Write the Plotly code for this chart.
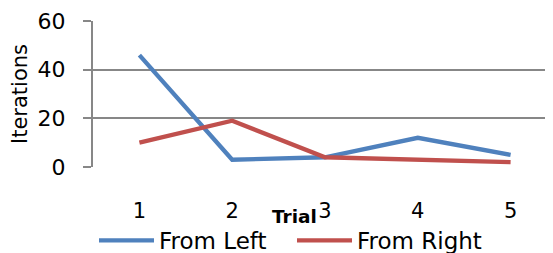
import plotly.graph_objects as go

trials = [1, 2, 3, 4, 5]
from_left = [46, 3, 4, 12, 5]
from_right = [10, 19, 4, 3, 2]
y_ticks = [0, 20, 40, 60]

BLUE = "#4F81BD"
RED = "#C0504D"
GRID = "#878787"
FONT = "DejaVu Sans, Arial, sans-serif"

# page body has an 8px default margin, so figure coords = screen coords - 8
L, T, B, R = 85, 13, 94, 4
PH = 253 - T - B
PW = 553 - L - R

fig = go.Figure()
fig.add_trace(go.Scatter(x=trials, y=from_left, mode="lines", name="From Left",
                         line=dict(color=BLUE, width=4.3)))
fig.add_trace(go.Scatter(x=trials, y=from_right, mode="lines", name="From Right",
                         line=dict(color=RED, width=4.3)))

fig.update_layout(
    width=553, height=253,
    margin=dict(l=L, r=R, t=T, b=B, autoexpand=False),
    paper_bgcolor="white", plot_bgcolor="white",
    font=dict(family=FONT, size=21, color="black"),
    showlegend=True,
    legend=dict(orientation="h", x=1 / PW, xanchor="left",
                y=(159 - 211) / PH, yanchor="top",
                font=dict(size=23), itemwidth=55, entrywidth=128,
                entrywidthmode="pixels", bgcolor="rgba(0,0,0,0)",
                tracegroupgap=0),
    xaxis=dict(range=[0.5, 5.5], tickmode="array", tickvals=trials,
               ticktext=[str(t) for t in trials], showgrid=False, zeroline=False,
               showline=False, ticks="", tickfont=dict(size=21),
               ticklabelstandoff=29, fixedrange=True),
    yaxis=dict(range=[0, 60], tickmode="array", tickvals=y_ticks,
               showgrid=True, gridcolor=GRID, gridwidth=2, zeroline=False,
               showline=True, linecolor=GRID, linewidth=2,
               ticks="outside", ticklen=8, tickcolor=GRID, tickwidth=2,
               tickfont=dict(size=22), ticklabelstandoff=13,
               title=dict(text="Iterations", font=dict(size=21), standoff=4),
               fixedrange=True),
    annotations=[dict(text="<b>Trial</b>", xref="paper", yref="paper",
                      x=(286 - L) / PW, y=(159 - 208) / PH,
                      xanchor="center", yanchor="middle", showarrow=False,
                      font=dict(size=18.5, family=FONT))],
)

fig.write_html("out.html")
